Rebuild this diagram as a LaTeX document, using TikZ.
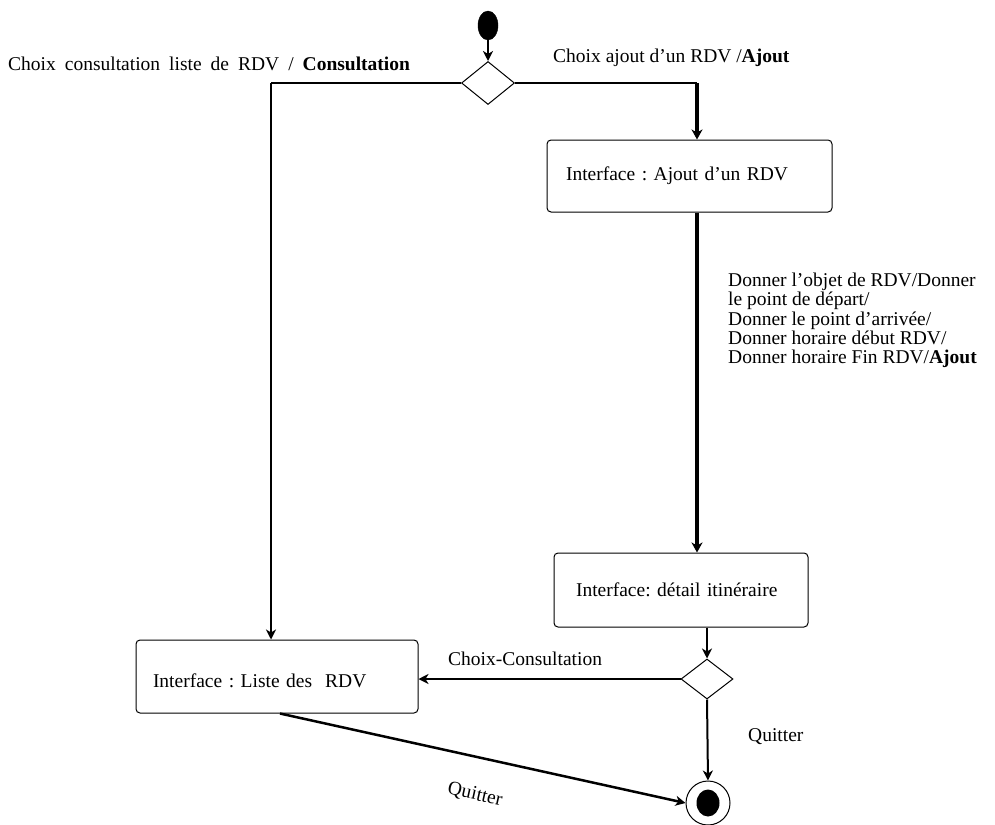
\documentclass[tikz,border=0pt]{standalone}
\usepackage{fontspec}
\setmainfont{Liberation Serif}
\usetikzlibrary{shapes.geometric,arrows.meta,calc}
\tikzset{
  every node/.style={font=\fontsize{19.5}{19.5}\selectfont\frenchspacing},
  statebox/.style={draw, line width=1pt, rounded corners=4pt, align=left, inner ysep=0pt, anchor=center},
  choice/.style={draw, diamond, line width=1pt, inner sep=0pt, minimum width=53pt, minimum height=43pt, aspect=1.23},
  conn/.style={line width=2pt},
  arr/.style={line width=2pt, -{Stealth[length=10pt,width=10pt,inset=3pt]}},
  thickarr/.style={line width=3.5pt, -{Stealth[length=10pt,width=11pt,inset=3pt]}},
  lbl/.style={inner sep=0pt, anchor=west}
}
\begin{document}
\begin{tikzpicture}[x=1pt,y=-1pt]
\useasboundingbox (0,0) rectangle (995,824);
% initial and final
\node[draw, fill=black, ellipse, minimum width=20pt, minimum height=29pt, inner sep=0pt] (init) at (488,25.5) {};
\node[draw, circle, line width=1pt, minimum size=44pt, inner sep=0pt] (final) at (708,803) {};
\node[fill=black, ellipse, minimum width=23pt, minimum height=27pt, inner sep=0pt] (finaldot) at (708,803) {};
% decisions
\node[choice] (d1) at (488,83) {};
\node[choice, minimum width=52pt, minimum height=40pt] (d2) at (707,679) {};
% states
\node[statebox, text width=247pt, inner xsep=19pt, minimum height=72pt] (ajout) at (689.5,176) {Interface : Ajout d’un RDV};
\node[statebox, text width=210pt, inner xsep=22pt, minimum height=74pt] (detail) at (681,590) {Interface: détail itinéraire};
\node[statebox, text width=248pt, inner xsep=17pt, minimum height=73pt] (liste) at (277,676.5) {\raisebox{-6pt}[14pt][4pt]{Interface : Liste des\ \ RDV}};
% connectors
\draw[arr] (init) -- (d1.north);
\draw[line width=1.5pt] (d1.west) -- (d1.west -| 271,0) coordinate (lc);
\draw[arr] (lc) -- (lc |- liste.north);
\draw[line width=1.5pt] (d1.east) -- (d1.east -| 697,0) coordinate (rc);
\draw[thickarr] (rc) -- (rc |- ajout.north);
\draw[thickarr] ([xshift=7.5pt]ajout.south) -- ([xshift=7.5pt]ajout.south |- detail.north);
\draw[arr] (d2.north |- detail.south) -- (d2.north);
\draw[arr] (d2.west) -- (d2.west -| liste.east);
\draw[arr] (d2.south) -- (final.north);
\draw[line width=2.5pt, -{Stealth[length=10pt,width=10pt,inset=3pt]}] ([xshift=3pt]liste.south) -- (final.west);
% labels
\node[lbl] (l1) at (8,64) {\spaceskip=9pt Choix consultation liste de RDV / \textbf{Consultation}};
\node[lbl] (l2) at (553,58) {Choix ajout d’un RDV /\textbf{Ajout}};
\node[inner sep=0pt, anchor=north west, align=left, font=\fontsize{19.5}{19.2}\selectfont] (l3) at (728,273) {Donner l’objet de RDV/Donner\\le point de départ/\\Donner le point d’arrivée/\\Donner horaire début RDV/\\Donner horaire Fin RDV/\textbf{Ajout}};
\node[lbl] (l4) at (448,659) {Choix-Consultation};
\node[lbl] (l5) at (748,737) {Quitter};
\node[inner sep=0pt, rotate=-12.5] (l6) at (475,795) {Quitter};
\end{tikzpicture}
\end{document}
